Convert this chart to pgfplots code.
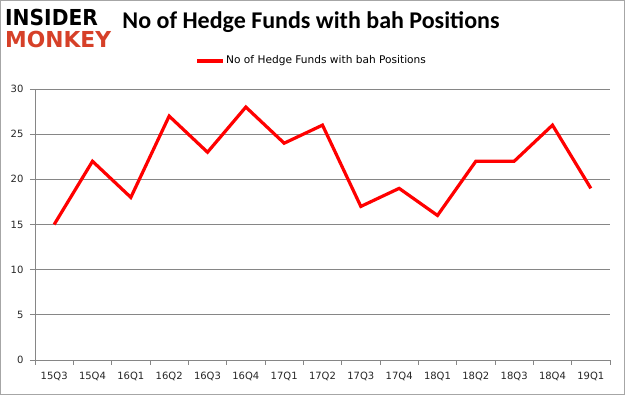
\documentclass[border=0pt]{standalone}
\usepackage{pgfplots}
\pgfplotsset{compat=1.18}
\usepackage{fontspec}
\setmainfont{Carlito}
\newfontfamily\logofont{DejaVu Sans}
\newfontfamily\labfont{DejaVu Sans}
\definecolor{gridgray}{RGB}{134,134,134}
\definecolor{monkeyred}{RGB}{214,64,40}
\begin{document}
\begin{tikzpicture}[x=1pt,y=1pt]
\draw[gray!70, line width=1pt] (0.5,0.5) rectangle (624.5,394.5);
\begin{axis}[
  at={(35pt,35pt)}, anchor=south west,
  scale only axis, width=575pt, height=271pt,
  xmin=-0.5, xmax=14.5, ymin=0, ymax=30,
  xtick={0,...,14},
  xticklabels={15Q3,15Q4,16Q1,16Q2,16Q3,16Q4,17Q1,17Q2,17Q3,17Q4,18Q1,18Q2,18Q3,18Q4,19Q1},
  minor xtick={-0.5,0.5,...,14.5},
  ytick={0,5,...,30},
  axis x line*=bottom, axis y line*=left,
  axis line style={gridgray, line width=0.8pt, -},
  x axis line style={-}, y axis line style={-},
  ymajorgrids, major grid style={gridgray, line width=0.8pt},
  major x tick style={draw=none},
  minor x tick style={gridgray, line width=0.8pt},
  major y tick style={gridgray, line width=0.8pt},
  tick align=outside, major tick length=5pt, minor tick length=5pt,
  tick label style={font=\labfont\fontsize{10}{12}\selectfont, text=black!85},
  xticklabel style={yshift=-4pt},
  yticklabel style={xshift=-3pt},
  /pgf/number format/assume math mode=true,
  clip=false,
]
\addplot[red, line width=3.2pt, line join=miter] coordinates {
(0,15) (1,22) (2,18) (3,27) (4,23) (5,28) (6,24) (7,26) (8,17) (9,19) (10,16) (11,22) (12,22) (13,26) (14,19)
};
\end{axis}
\node[font=\fontsize{24}{28}\selectfont\bfseries] at (311,373) {No of Hedge Funds with bah Positions};
\draw[red, line width=3.2pt] (197,334) -- (223,334);
\node[anchor=west, font=\labfont\fontsize{10.6}{13}\selectfont, inner sep=0pt] at (226,334) {No of Hedge Funds with bah Positions};
\node[anchor=west, font=\logofont\bfseries\fontsize{22}{24}\selectfont, inner sep=0pt, xscale=0.92] at (5,377) {INSIDER};
\node[anchor=west, font=\logofont\bfseries\fontsize{22}{24}\selectfont, inner sep=0pt, text=monkeyred, xscale=0.99] at (5,355) {MONKEY};
\end{tikzpicture}
\end{document}
